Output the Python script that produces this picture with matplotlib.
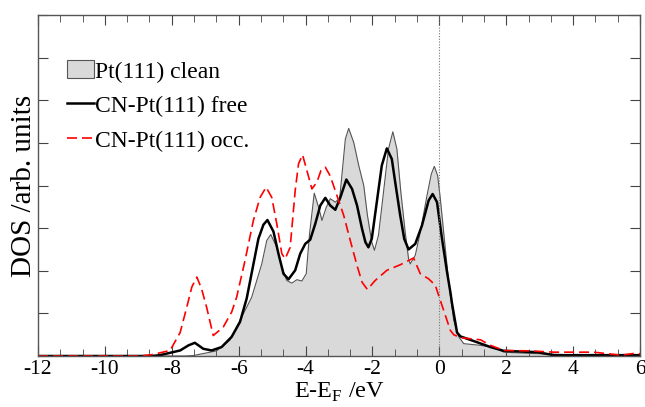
import numpy as np
import matplotlib
matplotlib.use('Agg')
import matplotlib.pyplot as plt
from matplotlib.patches import Patch
from matplotlib.lines import Line2D
from matplotlib.ticker import MultipleLocator, NullFormatter

plt.rcParams['font.family'] = ['Liberation Serif', 'DejaVu Serif']
plt.rcParams['mathtext.fontset'] = 'custom'
plt.rcParams['mathtext.rm'] = 'Liberation Serif'
plt.rcParams['axes.unicode_minus'] = False

# Pt(111) clean (shaded)
clean_e = [-12, -7.6, -7.36, -6.66, -6.26, -6.06, -5.86, -5.61, -5.31, -5.16, -5.04, -4.86,
           -4.71, -4.56, -4.41, -4.26, -4.11, -3.98, -3.88, -3.74, -3.61, -3.51, -3.38, -3.26,
           -3.11, -2.98, -2.81, -2.71, -2.56, -2.41, -2.26, -2.15, -2.02, -1.94, -1.82, -1.67,
           -1.52, -1.39, -1.27, -1.15, -1.02, -0.92, -0.87, -0.72, -0.57, -0.37, -0.24, -0.15,
           -0.05, 0.03, 0.13, 0.28, 0.43, 0.58, 0.73, 1.23, 1.63, 1.93, 2.43, 3.42, 4.5, 6]
clean_dos = [0, 0, 0.01, 0.12, 0.37, 0.68, 0.99, 1.38, 2.16, 2.71, 2.85, 2.55,
             2.08, 1.77, 1.71, 1.79, 1.76, 1.93, 2.87, 3.82, 3.49, 3.18, 3.49, 3.69,
             3.61, 3.70, 5.09, 5.34, 5.01, 4.47, 4.00, 3.30, 2.67, 2.48, 2.83, 3.84,
             4.86, 5.26, 4.86, 3.84, 2.90, 2.28, 2.16, 2.36, 2.90, 3.76, 4.27, 4.45,
             4.23, 3.69, 2.90, 1.73, 0.84, 0.45, 0.29, 0.25, 0.20, 0.09, 0.07, 0.04, 0.02, 0.02]

# CN-Pt(111) free
free_e = [-12, -8.6, -8.35, -7.75, -7.5, -7.31, -7.06, -6.81, -6.51, -6.21, -5.96, -5.76,
          -5.61, -5.41, -5.26, -5.14, -4.96, -4.81, -4.66, -4.51, -4.31, -4.16, -4.01, -3.86,
          -3.71, -3.56, -3.41, -3.26, -3.11, -2.96, -2.78, -2.61, -2.46, -2.31, -2.21, -2.12,
          -2.02, -1.87, -1.72, -1.57, -1.42, -1.32, -1.17, -1.05, -0.92, -0.72, -0.52, -0.32,
          -0.20, -0.07, 0.08, 0.23, 0.33, 0.38, 0.53, 0.63, 1.03, 1.53, 1.93, 2.93, 3.42, 6]
free_dos = [0, 0, 0.02, 0.13, 0.25, 0.31, 0.17, 0.13, 0.21, 0.45, 0.80, 1.35,
            1.95, 2.75, 3.08, 3.19, 2.92, 2.40, 1.93, 1.80, 2.01, 2.40, 2.63, 2.73,
            3.10, 3.53, 3.71, 3.53, 3.43, 3.72, 4.14, 3.92, 3.53, 2.98, 2.67, 2.55,
            2.75, 3.61, 4.47, 4.87, 4.62, 4.08, 3.30, 2.75, 2.50, 2.63, 3.06, 3.65,
            3.80, 3.61, 2.75, 1.97, 1.50, 1.23, 0.55, 0.46, 0.35, 0.21, 0.12, 0.09, 0.02, 0.02]

# CN-Pt(111) occ.
occ_e = [-12, -9.0, -8.6, -8.05, -7.75, -7.55, -7.4, -7.25, -7.11, -6.96, -6.76, -6.46,
         -6.21, -6.06, -5.81, -5.56, -5.36, -5.18, -5.01, -4.86, -4.71, -4.61, -4.46, -4.31,
         -4.21, -4.09, -3.96, -3.81, -3.66, -3.54, -3.41, -3.26, -3.06, -2.86, -2.66, -2.46,
         -2.31, -2.15, -1.92, -1.57, -1.17, -0.77, -0.57, -0.32, -0.12, -0.02, 0.13, 0.33,
         0.43, 0.63, 1.23, 1.53, 1.93, 2.72, 3.42, 4.62, 5.42, 5.92, 6]
occ_dos = [0, 0, 0.03, 0.13, 0.55, 1.15, 1.62, 1.85, 1.58, 1.15, 0.48, 0.68,
           1.03, 1.38, 2.24, 3.18, 3.72, 3.96, 3.72, 3.10, 2.40, 2.28, 2.55, 3.88,
           4.51, 4.72, 4.35, 3.92, 4.08, 4.35, 4.43, 4.22, 3.76, 3.30, 2.70, 2.12,
           1.73, 1.56, 1.77, 2.01, 2.14, 2.30, 1.93, 1.81, 1.66, 1.42, 1.07, 0.60,
           0.50, 0.43, 0.38, 0.25, 0.13, 0.12, 0.09, 0.09, 0.02, 0.07, 0.05]

labels = ['Pt(111) clean', 'CN-Pt(111) free', 'CN-Pt(111) occ.']

fig = plt.figure(figsize=(6.45, 4.07), dpi=100)
ax = fig.add_axes([38/645, 1-356/407, 602/645, 341/407])

ax.fill_between(clean_e, clean_dos, 0, color='#d9d9d9', lw=0)
ax.plot(clean_e, clean_dos, color='#555555', lw=0.8)
ax.plot(free_e, free_dos, color='black', lw=1.8)
ax.plot(occ_e, occ_dos, color='red', lw=1.2, dashes=(6, 3))
ax.axvline(0, color='#777777', lw=0.8, ls=(0, (1, 1.5)))

ax.set_xlim(-12, 6)
ax.set_ylim(0, 8)
ax.xaxis.set_major_locator(MultipleLocator(2))
ax.xaxis.set_minor_locator(MultipleLocator(2/3))
ax.yaxis.set_major_locator(MultipleLocator(1))
ax.yaxis.set_major_formatter(NullFormatter())
ax.tick_params(which='both', direction='in', top=True, right=True, color='#444444')
ax.tick_params(which='major', length=7, labelsize=15.5, pad=3)
ax.tick_params(which='minor', length=5)
for s in ax.spines.values():
    s.set_color('#555555')
    s.set_linewidth(1)

ax.set_xlabel(r'E-E$_\mathrm{F}$ /eV', fontsize=17.5)
ax.xaxis.set_label_coords(0.5, -0.073)
ax.set_ylabel('DOS /arb. units', fontsize=21)
ax.yaxis.set_label_coords(-0.002, 0.5)

handles = [Patch(facecolor='#d9d9d9', edgecolor='#555555', lw=0.8),
           Line2D([], [], color='black', lw=1.8),
           Line2D([], [], color='red', lw=1.2, dashes=(6, 3))]
ax.legend(handles, labels, loc='upper left', bbox_to_anchor=(0.048, 0.867), frameon=False,
          fontsize=17, handlelength=1.15, handleheight=0.8, handletextpad=0.05,
          labelspacing=0.52, borderaxespad=0, borderpad=0)

fig.savefig('out.png', dpi=100)
